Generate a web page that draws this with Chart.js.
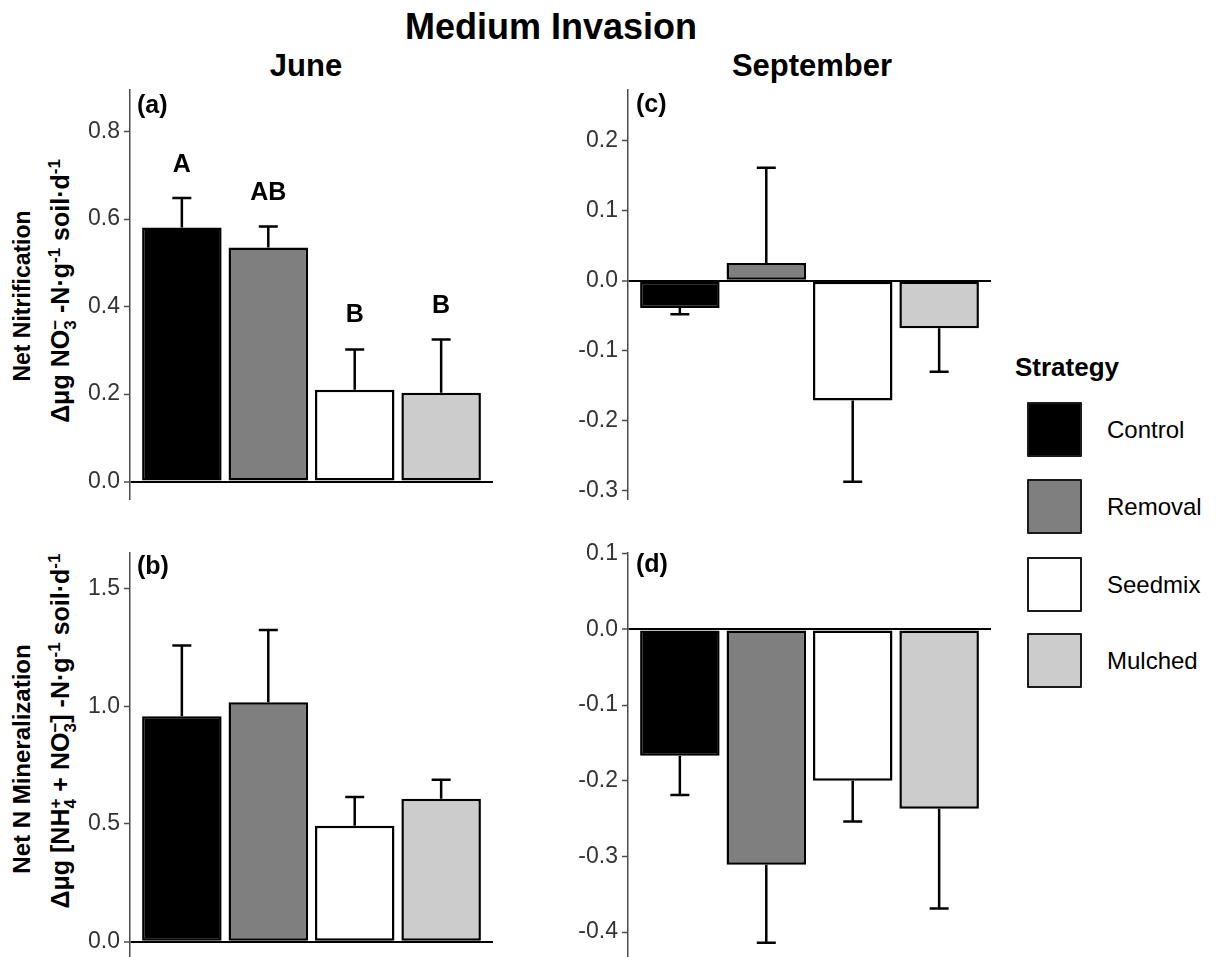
<!DOCTYPE html>
<html>
<head>
<meta charset="utf-8">
<script src="https://cdn.jsdelivr.net/npm/chart.js@4"></script>
<style>
  html, body { margin: 0; padding: 0; background: #fff; }
  body { position: relative; width: 1216px; height: 957px; overflow: hidden;
         font-family: "Liberation Sans", Arial, sans-serif; color: #000; }
  canvas { position: absolute; }
  .txt { position: absolute; white-space: nowrap; line-height: 1; }
  .c { transform: translate(-50%, -50%); }
  .l { transform: translate(0, -50%); }
  .rot { transform: translate(-50%, -50%) rotate(-90deg); }
  .b { font-weight: bold; }
  .stk { display: inline-block; vertical-align: -0.4em; font-size: 0.68em; line-height: 0.9em; text-align: left; }
  .stk span { display: block; }
  sup { font-size: 0.68em; vertical-align: 0.55em; line-height: 0; }
  .key { position: absolute; left: 1027px; width: 51px; height: 51px; border: 2px solid #1a1a1a; border-radius: 1px; }
</style>
</head>
<body>

<div class="txt c b" style="left:551px; top:27px; font-size:36px;">Medium Invasion</div>
<div class="txt c b" style="left:306px; top:65px; font-size:31px;">June</div>
<div class="txt c b" style="left:812px; top:65px; font-size:31px;">September</div>

<div class="txt rot b" style="left:22px; top:296px; font-size:23px;">Net Nitrification</div>
<div class="txt rot b" style="left:63px; top:291px; font-size:25px;">&Delta;&mu;g NO<span class="stk"><span>&minus;</span><span>3</span></span> -N&middot;g<sup>-1</sup> soil&middot;d<sup>-1</sup></div>
<div class="txt rot b" style="left:22px; top:759px; font-size:24px;">Net N Mineralization</div>
<div class="txt rot b" style="left:63px; top:731px; font-size:25px;">&Delta;&mu;g [NH<span class="stk"><span>+</span><span>4</span></span> + NO<span class="stk"><span>&minus;</span><span>3</span></span>] -N&middot;g<sup>-1</sup> soil&middot;d<sup>-1</sup></div>

<canvas id="cA" width="460" height="420" style="left:40px; top:80px;"></canvas>
<canvas id="cC" width="460" height="420" style="left:538px; top:80px;"></canvas>
<canvas id="cB" width="460" height="417" style="left:40px; top:540px;"></canvas>
<canvas id="cD" width="460" height="417" style="left:538px; top:540px;"></canvas>

<div class="txt l b" style="left:137px; top:104px; font-size:25px;">(a)</div>
<div class="txt l b" style="left:636px; top:103px; font-size:25px;">(c)</div>
<div class="txt l b" style="left:137px; top:565px; font-size:25px;">(b)</div>
<div class="txt l b" style="left:636px; top:563px; font-size:25px;">(d)</div>

<div id="legend"></div>

<script>
/* ============================================================
   Medium invasion: net nitrification / mineralization bars.
   ============================================================ */

'use strict';

const CATS  = ['Control', 'Removal', 'Seedmix', 'Mulched'];
const FILLS = ['#000000', '#7f7f7f', '#ffffff', '#cccccc'];

// (a) June, net nitrification
const JUNE_NIT         = [0.581, 0.535, 0.210, 0.203];
const JUNE_NIT_ERR     = [0.648, 0.583, 0.302, 0.325];
const JUNE_NIT_LETTERS = ['A', 'AB', 'B', 'B'];
const JUNE_NIT_LETTERY = [0.723, 0.659, 0.381, 0.400];

// (c) September, net nitrification
const SEP_NIT     = [-0.039, 0.025, -0.171, -0.068];
const SEP_NIT_ERR = [-0.048, 0.161, -0.287, -0.130];

// (b) June, net N mineralization
const JUNE_MIN     = [0.958, 1.017, 0.492, 0.607];
const JUNE_MIN_ERR = [1.258, 1.324, 0.615, 0.688];

// (d) September, net N mineralization
const SEP_MIN     = [-0.167, -0.311, -0.200, -0.237];
const SEP_MIN_ERR = [-0.219, -0.414, -0.254, -0.369];

// y ticks and limits
const TICKS_A = [0, 0.2, 0.4, 0.6, 0.8];
const TICKS_B = [0, 0.5, 1.0, 1.5];
const TICKS_C = [-0.3, -0.2, -0.1, 0, 0.1, 0.2];
const TICKS_D = [-0.4, -0.3, -0.2, -0.1, 0, 0.1];
const LIM_A = [-0.042, 0.895];
const LIM_B = [-0.065, 1.651];
const LIM_C = [-0.313, 0.272];
const LIM_D = [-0.433, 0.101];

const FONT = '"Liberation Sans", Arial, sans-serif';

const errBars = {
  id: 'errbars',
  afterDatasetsDraw(chart, args, opts) {
    const ctx = chart.ctx, y = chart.scales.y;
    const bars = chart.getDatasetMeta(0).data;
    ctx.save();
    ctx.strokeStyle = '#000';
    ctx.lineWidth = 2.5;
    bars.forEach((bar, i) => {
      const y0 = y.getPixelForValue(opts.means[i]);
      const y1 = y.getPixelForValue(opts.ends[i]);
      ctx.beginPath();
      ctx.moveTo(bar.x, y0);        ctx.lineTo(bar.x, y1);
      ctx.moveTo(bar.x - 9.5, y1);  ctx.lineTo(bar.x + 9.5, y1);
      ctx.stroke();
    });
    if (opts.letters) {
      ctx.fillStyle = '#000';
      ctx.font = 'bold 25px ' + FONT;
      ctx.textAlign = 'center';
      ctx.textBaseline = 'middle';
      bars.forEach((bar, i) => {
        ctx.fillText(opts.letters[i], bar.x, y.getPixelForValue(opts.letterY[i]));
      });
    }
    ctx.restore();
  }
};

function makePanel(id, means, ends, ticks, lim, padTop, letters, letterY) {
  new Chart(document.getElementById(id), {
    type: 'bar',
    data: {
      datasets: [{
        data: means.map((v, i) => ({ x: i + 1, y: v })),
        backgroundColor: FILLS,
        borderColor: '#000',
        borderWidth: 2.5,
        borderSkipped: false,
        categoryPercentage: 1,
        barPercentage: 0.92
      }]
    },
    options: {
      responsive: false,
      animation: false,
      layout: { padding: { top: padTop, right: 7, bottom: 0, left: 0 } },
      plugins: {
        legend: { display: false },
        tooltip: { enabled: false },
        errbars: { means: means, ends: ends, letters: letters, letterY: letterY }
      },
      scales: {
        x: {
          type: 'linear', display: false, offset: false, min: 0.4, max: 4.6,
          afterBuildTicks: s => { s.ticks = CATS.map((c, i) => ({ value: i + 1 })); }
        },
        y: {
          min: lim[0], max: lim[1],
          afterFit: s => { s.width = 90; s.paddingTop = 0; s.paddingBottom = 0; },
          afterBuildTicks: s => { s.ticks = ticks.map(v => ({ value: v })); },
          ticks: {
            color: '#333333', padding: 4,
            font: { family: FONT, size: 23 },
            callback: v => Number(v).toFixed(1)
          },
          grid: {
            drawOnChartArea: true, drawTicks: true, tickLength: 6,
            tickColor: '#4d4d4d', tickWidth: 1.5,
            color: c => (c.tick && c.tick.value === 0) ? '#000' : 'rgba(0,0,0,0)',
            lineWidth: c => (c.tick && c.tick.value === 0) ? 2 : 1
          },
          border: { display: true, color: '#4d4d4d', width: 1.5 }
        }
      }
    },
    plugins: [errBars]
  });
}

makePanel('cA', JUNE_NIT, JUNE_NIT_ERR, TICKS_A, LIM_A, 10, JUNE_NIT_LETTERS, JUNE_NIT_LETTERY);
makePanel('cC', SEP_NIT,  SEP_NIT_ERR,  TICKS_C, LIM_C, 10);
makePanel('cB', JUNE_MIN, JUNE_MIN_ERR, TICKS_B, LIM_B, 13);
makePanel('cD', SEP_MIN,  SEP_MIN_ERR,  TICKS_D, LIM_D, 13);

// legend
const KEY_TOPS = [402, 479, 557, 633];
const leg = document.getElementById('legend');
leg.innerHTML = '<div class="txt l b" style="left:1015px; top:367px; font-size:26px;">Strategy</div>' +
  CATS.map((c, i) =>
    `<div class="key" style="top:${KEY_TOPS[i]}px; background:${FILLS[i]}"></div>` +
    `<div class="txt l" style="left:1107px; top:${KEY_TOPS[i] + 28}px; font-size:24px;">${c}</div>`
  ).join('');
</script>
</body>
</html>
